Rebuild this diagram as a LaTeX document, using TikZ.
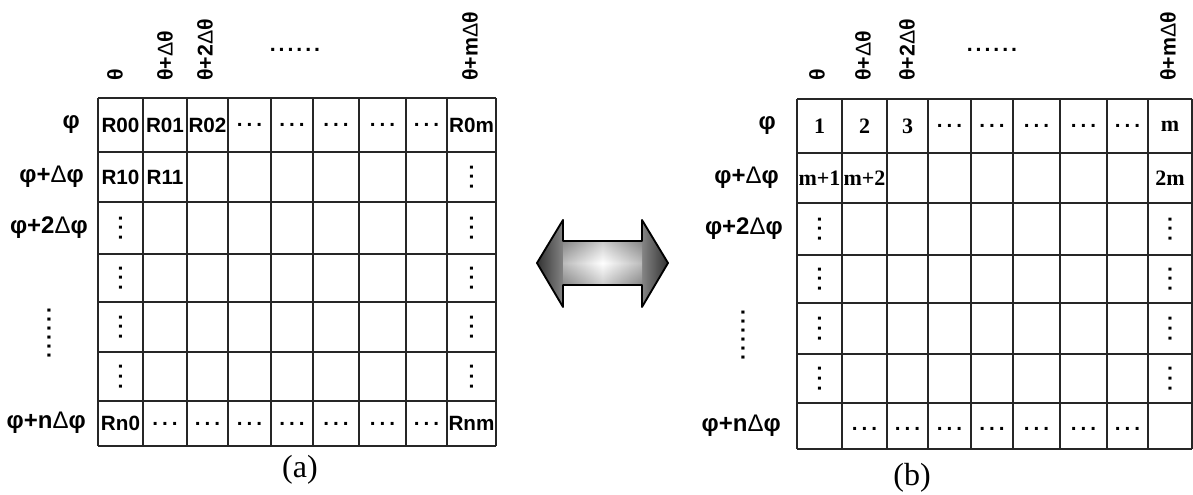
\documentclass[tikz,border=0pt]{standalone}
\usepackage{fontspec}
\setmainfont{Liberation Serif}
\setsansfont{Liberation Sans}

% three spaced dots, used flat and turned on end
\newcommand{\hdts}{.\kern3pt.\kern3pt.}
\newcommand{\sixdts}{.\kern2.2pt.\kern2.2pt.\kern2.2pt.\kern2.2pt.\kern2.2pt.}
\newcommand{\Dl}{{\mdseries Δ}}

\tikzset{
  cell/.style={font=\sffamily\bfseries\fontsize{15.5}{15}\selectfont, inner sep=0pt},
  num/.style={font=\bfseries\fontsize{16.5}{16}\selectfont, inner sep=0pt},
  vdts/.style={cell, rotate=90},
  axlab/.style={font=\sffamily\bfseries\fontsize{16}{16}\selectfont, inner sep=0pt},
  collab/.style={axlab, rotate=90, anchor=west},
  rowlab/.style={axlab, font=\sffamily\bfseries\fontsize{18}{18}\selectfont, anchor=east},
  gridline/.style={black!85, line width=1.4pt},
  caption/.style={font=\fontsize{24}{24}\selectfont, inner sep=0pt},
}

\begin{document}
\begin{tikzpicture}[x=0.75pt, y=-0.75pt]
  \useasboundingbox (0,0) rectangle (1193,495);

  % left table: R-values
  \foreach \x in {98,143,187,228,271,313,359,406,447,496}
    \draw [gridline] (\x,98) -- (\x,446);
  \foreach \y in {98,152,202,254,302,352,401,446}
    \draw [gridline] (98,\y) -- (496,\y);

  \node [collab] (th-a0) at (115,81) {θ};
  \node [collab] (th-a1) at (165,81) {θ+\Dl θ};
  \node [collab] (th-a2) at (205,81) {θ+2\Dl θ};
  \node [axlab] (th-ad) at (295,50) {\sixdts};
  \node [collab] (th-am) at (470,81) {θ+m\Dl θ};

  \node [rowlab] (ph-a0) at (80,125) {φ};
  \node [rowlab] (ph-a1) at (84,177) {φ+\Dl φ};
  \node [rowlab] (ph-a2) at (88,228) {φ+2\Dl φ};
  \node [axlab, rotate=90] (ph-ad) at (49,333) {\sixdts};
  \node [rowlab] (ph-an) at (86,423) {φ+n\Dl φ};

  \node [cell] (a00) at (120.5,125) {R00};
  \node [cell] (a01) at (165,125) {R01};
  \node [cell] (a02) at (207.5,125) {R02};
  \node [cell] (a03) at (249.5,125) {\hdts};
  \node [cell] (a04) at (292,125) {\hdts};
  \node [cell] (a05) at (336,125) {\hdts};
  \node [cell] (a06) at (382.5,125) {\hdts};
  \node [cell] (a07) at (426.5,125) {\hdts};
  \node [cell] (a0m) at (471.5,125) {R0m};
  \node [cell] (a10) at (120.5,177) {R10};
  \node [cell] (a11) at (165,177) {R11};
  \node [vdts] (a1m) at (471.5,177) {\hdts};
  \node [vdts] (a20) at (120.5,228) {\hdts};
  \node [vdts] (a2m) at (471.5,228) {\hdts};
  \node [vdts] (a30) at (120.5,278) {\hdts};
  \node [vdts] (a3m) at (471.5,278) {\hdts};
  \node [vdts] (a40) at (120.5,327) {\hdts};
  \node [vdts] (a4m) at (471.5,327) {\hdts};
  \node [vdts] (a50) at (120.5,376.5) {\hdts};
  \node [vdts] (a5m) at (471.5,376.5) {\hdts};
  \node [cell] (an0) at (120.5,423.5) {Rn0};
  \node [cell] (an1) at (165,423.5) {\hdts};
  \node [cell] (an2) at (207.5,423.5) {\hdts};
  \node [cell] (an3) at (249.5,423.5) {\hdts};
  \node [cell] (an4) at (292,423.5) {\hdts};
  \node [cell] (an5) at (336,423.5) {\hdts};
  \node [cell] (an6) at (382.5,423.5) {\hdts};
  \node [cell] (an7) at (426.5,423.5) {\hdts};
  \node [cell] (anm) at (471.5,423.5) {Rnm};

  \node [caption] (cap-a) at (300,470) {(a)};

  % double arrow between the tables
  \shade [left color=black!80, right color=black!80, middle color=white]
    (537,263) -- (563,220) -- (563,241) -- (642,241) -- (642,220) -- (668,263)
    -- (642,307) -- (642,285) -- (563,285) -- (563,307) -- cycle;
  \shade [top color=black!45, bottom color=black!45, middle color=white, fill opacity=.45]
    (563,241) rectangle (642,285);
  \draw [black, line width=1.4pt, line join=round]
    (537,263) -- (563,220) -- (563,241) -- (642,241) -- (642,220) -- (668,263)
    -- (642,307) -- (642,285) -- (563,285) -- (563,307) -- cycle;

  % right table: running numbers
  \foreach \x in {797,842,887,928,971,1013,1060,1107,1148,1192}
    \draw [gridline] (\x,99) -- (\x,449);
  \foreach \y in {99,153,203,255,303,354,403,449}
    \draw [gridline] (797,\y) -- (1192,\y);

  \node [collab] (th-b0) at (817,81) {θ};
  \node [collab] (th-b1) at (863,81) {θ+\Dl θ};
  \node [collab] (th-b2) at (907,81) {θ+2\Dl θ};
  \node [axlab] (th-bd) at (992,50) {\sixdts};
  \node [collab] (th-bm) at (1168,81) {θ+m\Dl θ};

  \node [rowlab] (ph-b0) at (776,126) {φ};
  \node [rowlab] (ph-b1) at (779,178) {φ+\Dl φ};
  \node [rowlab] (ph-b2) at (783,229) {φ+2\Dl φ};
  \node [axlab, rotate=90] (ph-bd) at (743,335) {\sixdts};
  \node [rowlab] (ph-bn) at (781,426) {φ+n\Dl φ};

  \node [num] (b00) at (819.5,126) {1};
  \node [num] (b01) at (864.5,126) {2};
  \node [num] (b02) at (907.5,126) {3};
  \node [cell] (b03) at (949.5,126) {\hdts};
  \node [cell] (b04) at (992,126) {\hdts};
  \node [cell] (b05) at (1036.5,126) {\hdts};
  \node [cell] (b06) at (1083.5,126) {\hdts};
  \node [cell] (b07) at (1127.5,126) {\hdts};
  \node [num] (b0m) at (1170,126) {m};
  \node [num] (b10) at (819.5,178) {m+1};
  \node [num] (b11) at (864.5,178) {m+2};
  \node [num] (b1m) at (1170,178) {2m};
  \node [vdts] (b20) at (819.5,229) {\hdts};
  \node [vdts] (b2m) at (1170,229) {\hdts};
  \node [vdts] (b30) at (819.5,279) {\hdts};
  \node [vdts] (b3m) at (1170,279) {\hdts};
  \node [vdts] (b40) at (819.5,328.5) {\hdts};
  \node [vdts] (b4m) at (1170,328.5) {\hdts};
  \node [vdts] (b50) at (819.5,378.5) {\hdts};
  \node [vdts] (b5m) at (1170,378.5) {\hdts};
  \node [cell] (bn1) at (864.5,429) {\hdts};
  \node [cell] (bn2) at (907.5,429) {\hdts};
  \node [cell] (bn3) at (949.5,429) {\hdts};
  \node [cell] (bn4) at (992,429) {\hdts};
  \node [cell] (bn5) at (1036.5,429) {\hdts};
  \node [cell] (bn6) at (1083.5,429) {\hdts};
  \node [cell] (bn7) at (1127.5,429) {\hdts};

  \node [caption] (cap-b) at (912,478) {(b)};
\end{tikzpicture}
\end{document}
